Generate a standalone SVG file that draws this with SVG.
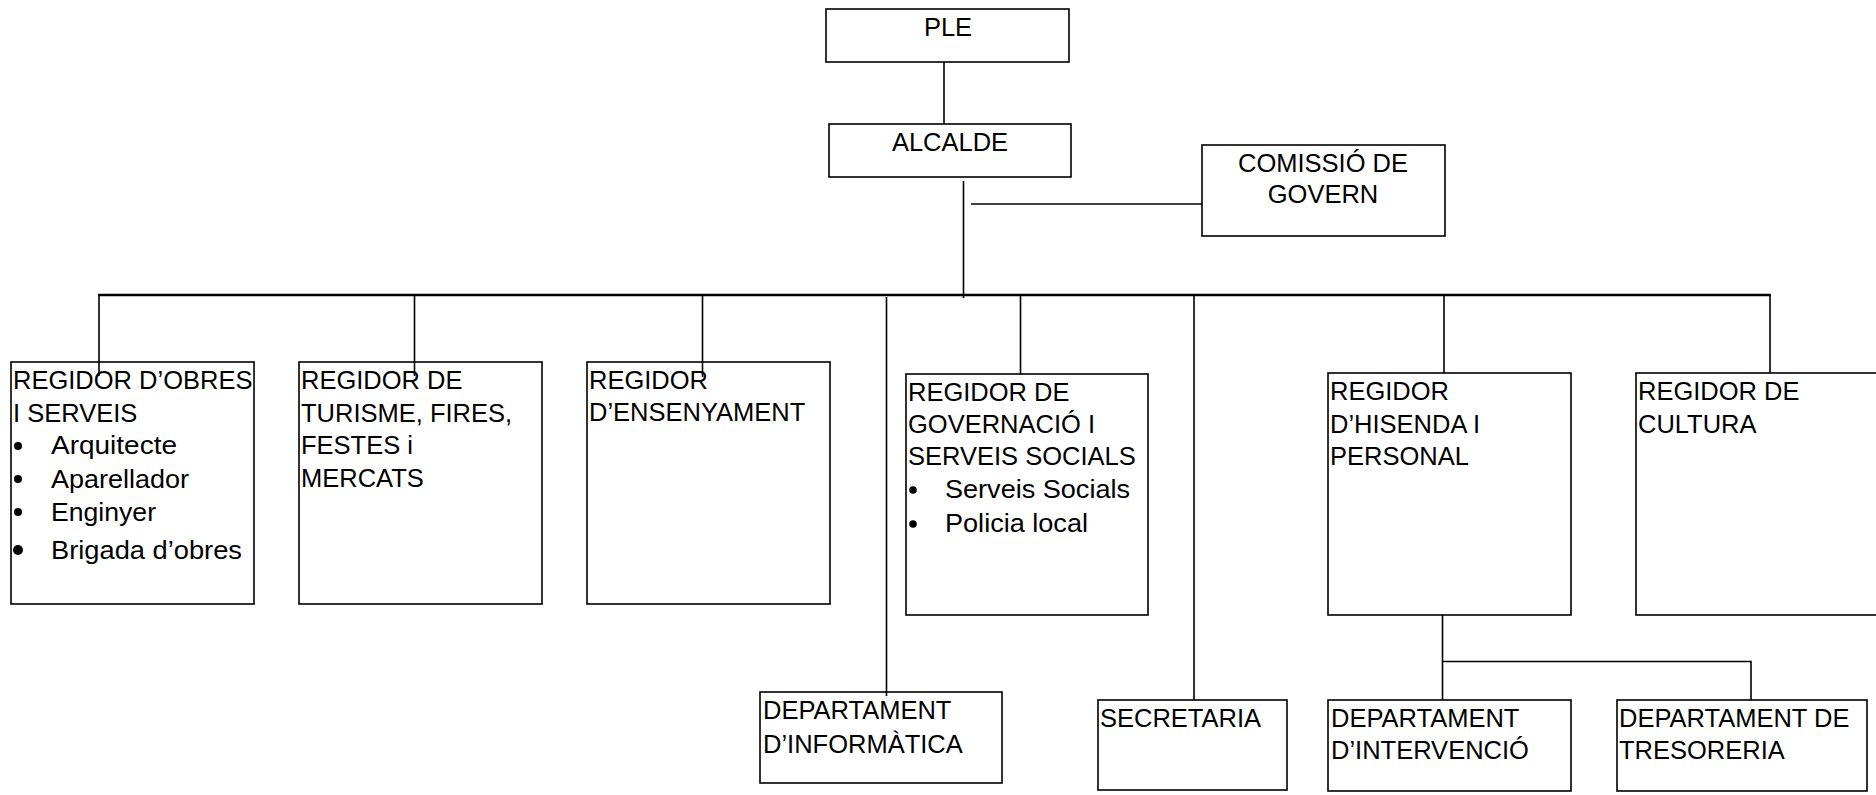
<svg xmlns="http://www.w3.org/2000/svg" width="1876" height="795" viewBox="0 0 1876 795">
<style>
rect.box{fill:#fff;stroke:#000;stroke-width:1.6}
text{font-family:"Liberation Sans",Arial,sans-serif;font-size:25.5px;fill:#000}
text.c{text-anchor:middle}
text.li{font-size:26px}
.ln{stroke:#000;stroke-width:1.6;fill:none}
.bus{stroke:#000;stroke-width:2.6;fill:none}
circle{fill:#000}
</style>
<rect width="1876" height="795" fill="#fff"/>
<g id="PLE"><rect class="box" x="826" y="9" width="243" height="53"/><text class="c" x="948" y="36">PLE</text></g>
<g id="ALCALDE"><rect class="box" x="829" y="124" width="242" height="53"/><text class="c" x="950" y="151">ALCALDE</text></g>
<g id="COMISSIO"><rect class="box" x="1202" y="145" width="243" height="91"/><text class="c" x="1323" y="172">COMISSIÓ DE</text><text class="c" x="1323" y="203">GOVERN</text></g>
<g id="OBRES"><rect class="box" x="11" y="362" width="243" height="242"/>
<text x="13" y="389">REGIDOR D’OBRES</text><text x="13" y="421.5">I SERVEIS</text>
<circle cx="18" cy="446" r="4"/><text class="li" x="51" y="454" textLength="126" lengthAdjust="spacingAndGlyphs">Arquitecte</text>
<circle cx="18" cy="479" r="4"/><text class="li" x="51" y="487.5" textLength="138" lengthAdjust="spacingAndGlyphs">Aparellador</text>
<circle cx="18" cy="512" r="4"/><text class="li" x="51" y="520.5" textLength="105" lengthAdjust="spacingAndGlyphs">Enginyer</text>
<circle cx="18" cy="550" r="5"/><text class="li" x="51" y="559" textLength="191" lengthAdjust="spacingAndGlyphs">Brigada d’obres</text></g>
<g id="TURISME"><rect class="box" x="299" y="362" width="243" height="242"/>
<text x="301" y="389">REGIDOR DE</text><text x="301" y="421.5">TURISME, FIRES,</text><text x="301" y="454">FESTES i</text><text x="301" y="486.5">MERCATS</text></g>
<g id="ENSENYAMENT"><rect class="box" x="587" y="362" width="243" height="242"/>
<text x="589" y="389">REGIDOR</text><text x="589" y="421">D’ENSENYAMENT</text></g>
<g id="GOVERNACIO"><rect class="box" x="906" y="374" width="242" height="241"/>
<text x="908" y="400.5">REGIDOR DE</text><text x="908" y="432.5">GOVERNACIÓ I</text><text x="908" y="465">SERVEIS SOCIALS</text>
<circle cx="913" cy="490" r="3.8"/><text class="li" x="945" y="498" textLength="185" lengthAdjust="spacingAndGlyphs">Serveis Socials</text>
<circle cx="913" cy="524" r="3.8"/><text class="li" x="945" y="532" textLength="143" lengthAdjust="spacingAndGlyphs">Policia local</text></g>
<g id="HISENDA"><rect class="box" x="1328" y="373" width="243" height="242"/>
<text x="1330" y="400">REGIDOR</text><text x="1330" y="432.5">D’HISENDA I</text><text x="1330" y="465">PERSONAL</text></g>
<g id="CULTURA"><rect class="box" x="1636" y="373" width="243" height="242"/>
<text x="1638" y="400">REGIDOR DE</text><text x="1638" y="432.5">CULTURA</text></g>
<g id="INFORMATICA"><rect class="box" x="760" y="692" width="242" height="91"/>
<text x="763" y="719">DEPARTAMENT</text><text x="763" y="752.5">D’INFORMÀTICA</text></g>
<g id="SECRETARIA"><rect class="box" x="1098" y="700" width="189" height="90"/>
<text x="1100" y="726.5">SECRETARIA</text></g>
<g id="INTERVENCIO"><rect class="box" x="1328" y="700" width="243" height="91"/>
<text x="1331" y="726.5">DEPARTAMENT</text><text x="1331" y="759">D’INTERVENCIÓ</text></g>
<g id="TRESORERIA"><rect class="box" x="1617" y="700" width="250" height="91"/>
<text x="1619" y="726.5">DEPARTAMENT DE</text><text x="1619" y="759">TRESORERIA</text></g>
<g id="connectors">
<line class="ln" x1="944" y1="62" x2="944" y2="124"/>
<line class="ln" x1="963.5" y1="181" x2="963.5" y2="298"/>
<line class="ln" x1="971" y1="204" x2="1202" y2="204"/>
<line class="bus" x1="98" y1="295" x2="1771" y2="295"/>
<line class="ln" x1="99" y1="295" x2="99" y2="376"/>
<line class="ln" x1="414.5" y1="295" x2="414.5" y2="376"/>
<line class="ln" x1="702.5" y1="295" x2="702.5" y2="377"/>
<line class="ln" x1="886.5" y1="297" x2="886.5" y2="696"/>
<line class="ln" x1="1020.5" y1="295" x2="1020.5" y2="374"/>
<line class="ln" x1="1194" y1="295" x2="1194" y2="700"/>
<line class="ln" x1="1444" y1="295" x2="1444" y2="373"/>
<line class="ln" x1="1770" y1="295" x2="1770" y2="373"/>
<polyline class="ln" points="1442.5,615 1442.5,700"/>
<polyline class="ln" points="1442.5,661.5 1751,661.5 1751,700"/>
</g>
</svg>
